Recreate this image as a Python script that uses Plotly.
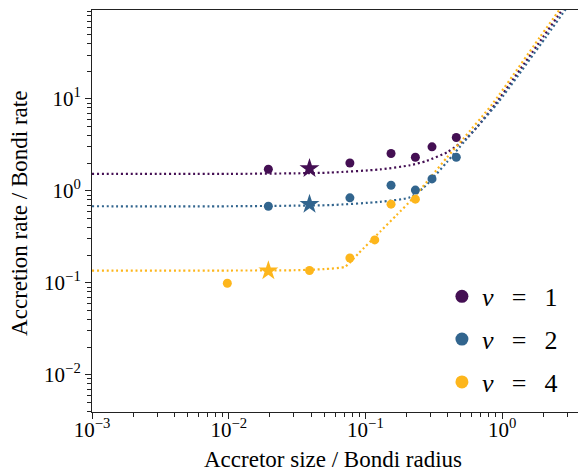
import plotly.graph_objects as go

# ---------------- data ----------------
series_labels = ["<i>v</i>\u2002\u2009=\u2002\u20091", "<i>v</i>\u2002\u2009=\u2002\u20092", "<i>v</i>\u2002\u2009=\u2002\u20094"]
colors = ["#440f53", "#32658e", "#fdb61c"]

# measured accretion rates (circles)
size_v1 = [0.0195, 0.077, 0.154, 0.232, 0.307, 0.462]
rate_v1 = [1.72, 2.01, 2.55, 2.32, 3.01, 3.80]
size_v2 = [0.0195, 0.077, 0.154, 0.232, 0.307, 0.462]
rate_v2 = [0.68, 0.84, 1.15, 1.02, 1.35, 2.32]
size_v4 = [0.00977, 0.039, 0.077, 0.117, 0.154, 0.232]
rate_v4 = [0.099, 0.136, 0.186, 0.293, 0.717, 0.812]

# highlighted runs (stars)
star_size = [0.039, 0.039, 0.0195]
star_rate = [1.75, 0.717, 0.135]

# model curves (dotted)
curve_x_v1 = [0.001, 0.01, 0.03, 0.055, 0.128, 0.212, 0.276, 0.400, 0.551, 0.652, 0.897, 1.99, 2.74, 3.6]
curve_y_v1 = [1.53, 1.53, 1.55, 1.58, 1.71, 1.90, 2.10, 2.65, 3.75, 4.9, 8.9, 47.0, 92.0, 160.0]
curve_x_v2 = [0.001, 0.01, 0.03, 0.055, 0.128, 0.212, 0.266, 0.314, 0.394, 0.53, 0.652, 0.943, 2.09, 2.88, 3.6]
curve_y_v2 = [0.68, 0.68, 0.69, 0.70, 0.76, 0.85, 1.08, 1.40, 2.05, 3.45, 4.9, 9.3, 47.0, 92.0, 145.0]
curve_x_v4 = [0.001, 0.01, 0.03, 0.05, 0.071, 0.0887, 0.128, 0.169, 0.224, 0.305, 0.394, 0.52, 0.853, 1.89, 2.61, 3.6]
curve_y_v4 = [0.136, 0.136, 0.137, 0.141, 0.150, 0.208, 0.36, 0.545, 0.84, 1.45, 2.30, 3.7, 8.9, 47.0, 92.0, 180.0]

# tick labels
x_tickvals = [0.001, 0.01, 0.1, 1]
x_ticktext = ["10<sup>\u22123</sup>", "10<sup>\u22122</sup>", "10<sup>\u22121</sup>", "10<sup>0</sup>"]
y_tickvals = [0.01, 0.1, 1, 10]
y_ticktext = ["10<sup>\u22122</sup>", "10<sup>\u22121</sup>", "10<sup>0</sup>", "10<sup>1</sup>"]

x_title = "Accretor size / Bondi radius"
y_title = "Accretion rate / Bondi rate"

FONT = "Liberation Serif"

fig = go.Figure()

curves = [(curve_x_v1, curve_y_v1), (curve_x_v2, curve_y_v2), (curve_x_v4, curve_y_v4)]
points = [(size_v1, rate_v1), (size_v2, rate_v2), (size_v4, rate_v4)]

for (cx, cy), c in zip(curves, colors):
    fig.add_trace(go.Scatter(x=cx, y=cy, mode="lines",
                             line=dict(color=c, width=2.2, dash="2px,2.8px", shape="spline", smoothing=0.6),
                             showlegend=False, hoverinfo="skip"))

for (px, py), c in zip(points, colors):
    fig.add_trace(go.Scatter(x=px, y=py, mode="markers", marker=dict(color=c, size=9, line=dict(width=0)),
                             showlegend=False))

fig.add_trace(go.Scatter(x=star_size, y=star_rate, mode="markers",
                         marker=dict(color=colors, size=15, symbol="star", line=dict(width=0)),
                         showlegend=False))

# legend entries
for i, (lab, c) in enumerate(zip(series_labels, colors)):
    fig.add_trace(go.Scatter(x=[None], y=[None], mode="markers", name=lab, legendgroup=f"g{i}",
                             marker=dict(color=c, size=13)))

axis_common = dict(
    type="log", showgrid=False, zeroline=False, showline=True, linecolor="#222", linewidth=1.1,
    ticks="outside", ticklen=6, tickwidth=1, tickcolor="#222", automargin=False,
    tickfont=dict(family=FONT, size=21, color="black"),
    minor=dict(ticks="outside", ticklen=3.5, tickwidth=0.8, tickcolor="#222", dtick="D1", showgrid=False),
)

fig.update_xaxes(**axis_common, range=[-3, 0.555], mirror=True, ticklabelstandoff=-7,
                 tickmode="array", tickvals=x_tickvals, ticktext=x_ticktext)
fig.update_yaxes(**axis_common, range=[-2.405, 1.967],
                 tickmode="array", tickvals=y_tickvals, ticktext=y_ticktext)

fig.add_annotation(text=x_title, xref="paper", yref="paper", x=0.496, y=-0.118,
                   xanchor="center", yanchor="middle", showarrow=False,
                   font=dict(family=FONT, size=23, color="black"))
fig.add_annotation(text=y_title, xref="paper", yref="paper", x=-0.148, y=0.493,
                   xanchor="center", yanchor="middle", showarrow=False, textangle=-90,
                   font=dict(family=FONT, size=23, color="black"))

fig.update_layout(
    width=578, height=471,
    margin=dict(l=92, r=0, t=10, b=59),
    plot_bgcolor="white", paper_bgcolor="white",
    legend=dict(x=0.72, y=0.346, xanchor="left", yanchor="top", bgcolor="rgba(0,0,0,0)",
                font=dict(family=FONT, size=26, color="black"), tracegroupgap=6,
                itemwidth=30),
    font=dict(family=FONT),
)

fig.write_html("out.html", config={"displayModeBar": False},
               post_script="document.body.style.margin='0px';")
